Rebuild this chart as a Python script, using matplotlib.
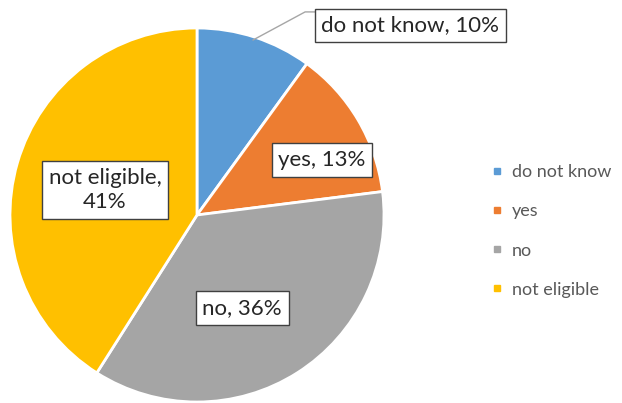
import matplotlib.pyplot as plt
from matplotlib.lines import Line2D

labels = ['do not know', 'yes', 'no', 'not eligible']
shares = [10, 13, 36, 41]
colors = ['#5B9BD5', '#ED7D31', '#A5A5A5', '#FFC000']

plt.rcParams['font.family'] = ['Lato', 'DejaVu Sans']

W, H = 622, 403
fig = plt.figure(figsize=(W / 100, H / 100), dpi=100)
cx, cy, r = 197, 215, 187
ax = fig.add_axes([(cx - r) / W, (H - cy - r) / H, 2 * r / W, 2 * r / H])

wedges, _ = ax.pie(shares, colors=colors, startangle=90, counterclock=False,
                   radius=1, wedgeprops=dict(edgecolor='white', linewidth=2))
ax.set_xlim(-1, 1)
ax.set_ylim(-1, 1)
ax.set_aspect('equal')
ax.axis('off')

box = dict(boxstyle='square,pad=0.3', fc='white', ec='#404040', lw=1)
pos = [(1.14, 1.015), (0.668, 0.294), (0.241, -0.497), (-0.492, 0.134)]
texts = ['do not know, 10%', 'yes, 13%', 'no, 36%', 'not eligible,\n41%']
for (x, y), t in zip(pos, texts):
    ax.text(x, y, t, ha='center', va='center', fontsize=16, color='#262626',
            bbox=box, linespacing=1.25, clip_on=False)

# leader line for the small slice
ax.plot([0.30, 0.578, 0.64], [0.936, 1.086, 1.086], color='#A6A6A6', lw=1,
        clip_on=False)

handles = [Line2D([], [], marker='s', ls='', color=c, markersize=5) for c in colors]
fig.legend(handles, labels, loc='center left', bbox_to_anchor=(472 / W, 1 - 231 / H),
           frameon=False, fontsize=13, labelcolor='#595959', handletextpad=0.3,
           labelspacing=1.28, handlelength=1.0)

fig.savefig('out.png', dpi=100)
